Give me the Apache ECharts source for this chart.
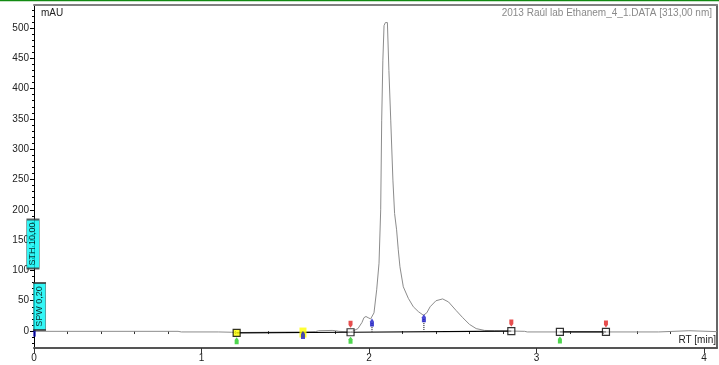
<!DOCTYPE html>
<html>
<head>
<meta charset="utf-8">
<script src="https://cdn.jsdelivr.net/npm/echarts@6/dist/echarts.min.js"></script>
<style>
  html, body { margin: 0; padding: 0; background: #fff; }
  #chart { width: 719px; height: 365px; }
</style>
</head>
<body>
<div id="chart"></div>
<script>
// Detector trace at 313 nm: retention time (min) and absorbance (mAU)
const traceTime = [0.000, 0.860, 0.880, 1.100, 1.180, 1.210, 1.400, 1.600, 1.680, 1.700, 1.780, 1.800, 1.820, 1.890,
  1.904, 1.934, 1.958, 1.970, 1.982, 1.995, 2.010, 2.018, 2.030, 2.046, 2.060, 2.070, 2.076, 2.083, 2.090, 2.098,
  2.106, 2.110, 2.119, 2.130, 2.143, 2.153, 2.165, 2.175, 2.185, 2.205, 2.235, 2.265, 2.295, 2.325, 2.345, 2.365,
  2.400, 2.440, 2.475, 2.520, 2.560, 2.600, 2.640, 2.690, 2.750, 2.850, 2.930, 2.945, 3.730, 3.740, 3.910, 3.920, 4.078];
const traceMAU = [-0.5, -0.5, -1.5, -1.5, -2, -2.5, -2, -1.5, -1, 0.5, 1, 0.5, -0.5, -1.5,
  0, 4, 14, 22, 24, 22, 20, 19, 30, 68, 112, 200, 348, 447, 504, 509,
  512, 509, 430, 348, 249, 194, 167, 134, 106, 73, 54, 40, 32, 26, 30, 40,
  50, 53, 48, 34, 22, 11, 4, 1, 0.5, 0, -0.5, -1.5, -1.5, 0.5, 0.5, -1, -1];

// Integration baselines (start / end of each drawn segment)
const baseStartTime = [1.21, 1.89, 3.14];
const baseStartMAU = [-3, -2, -1.5];
const baseEndTime = [1.89, 2.85, 3.415];
const baseEndMAU = [-2, 0, -1.5];

// Peak boundary boxes
const boxTime = [1.89, 2.85, 3.14, 3.415];
const boxMAU = [-2, 0, -1.5, -1.5];
const selectedBoxTime = [1.21];
const selectedBoxMAU = [-3];

// Peak start (green) and peak end (red) flags
const startFlagTime = [1.21, 1.89, 3.14];
const startFlagMAU = [-3, -2, -1.5];
const endFlagTime = [1.89, 2.85, 3.415];
const endFlagMAU = [-2, 0, -1.5];

// Valley / split markers (blue) and the baseline level each drops to
const valleyTime = [1.606, 2.018, 2.328];
const valleyMAU = [-1.5, 19, 26];
const valleyDropMAU = [-1.5, -1.2, -0.4];
const highlightTime = [1.606];
const highlightMAU = [-2.5];

// Integration event parameters shown on the signal axis
const eventNames = ['STH 10,00', 'SPW 0,20'];
const eventMAU = [143.5, 40.5];

// Axis ticks
const xTickValues = [0, 1, 2, 3, 4];
const yTickValues = [0, 50, 100, 150, 200, 250, 300, 350, 400, 450, 500];

const X_MIN = 0, X_MAX = 4.078, Y_MIN = -28, Y_MAX = 538;

const xMinor = [];
for (let i = 1; i <= 20; i++) { const v = +(i * 0.2).toFixed(1); if (xTickValues.indexOf(v) < 0) xMinor.push(v); }
const yMinor = [];
for (let v = -20; v <= 530; v += 10) { if (v % 50 !== 0) yMinor.push(v); }

const zip = (a, b) => a.map((t, i) => [t, b[i]]);
const font = 'Arial, "Liberation Sans", sans-serif';

const downArrow = 'path://M0,0L4,0L4,5L2,8L0,5Z';
const upArrow = 'path://M2,0L4,3L4,8L0,8L0,3Z';

const series = [];

// the chromatogram
series.push({
  type: 'line', data: zip(traceTime, traceMAU), showSymbol: false, symbol: 'none',
  lineStyle: { color: '#8c8c8c', width: 1 }, z: 2, silent: true
});

// baselines
baseStartTime.forEach((t, i) => {
  series.push({
    type: 'line', data: [[t, baseStartMAU[i]], [baseEndTime[i], baseEndMAU[i]]], symbol: 'none',
    lineStyle: { color: '#000', width: 1.2 }, z: 3, silent: true
  });
});

// dotted drops from valley markers down to baseline
valleyTime.forEach((t, i) => {
  if (valleyMAU[i] - valleyDropMAU[i] < 3) return;
  series.push({
    type: 'line', data: [[t, valleyMAU[i] - 6], [t, valleyDropMAU[i]]], symbol: 'none',
    lineStyle: { color: '#000', width: 1, type: [1, 1] }, z: 3, silent: true
  });
});

// yellow highlight behind the first valley
series.push({
  type: 'scatter', data: zip(highlightTime, highlightMAU), symbol: 'rect', symbolSize: [7, 10],
  itemStyle: { color: '#ffff00' }, z: 4, silent: true, clip: false
});

// boundary boxes
series.push({
  type: 'scatter', data: zip(boxTime, boxMAU), symbol: 'rect', symbolSize: 7,
  itemStyle: { color: 'rgba(255,255,255,0.6)', borderColor: '#000', borderWidth: 1.2 }, z: 5, silent: true
});
series.push({
  type: 'scatter', data: zip(selectedBoxTime, selectedBoxMAU), symbol: 'rect', symbolSize: 7,
  itemStyle: { color: '#ffff00', borderColor: '#000', borderWidth: 1.2 }, z: 5, silent: true
});

// start / end flags
series.push({
  type: 'scatter', data: zip(startFlagTime, startFlagMAU), symbol: upArrow, symbolSize: [4, 7],
  symbolOffset: [0, 8], itemStyle: { color: '#22cc22' }, z: 5, silent: true
});
series.push({
  type: 'scatter', data: zip(endFlagTime, endFlagMAU), symbol: downArrow, symbolSize: [4, 7],
  symbolOffset: [0, -8], itemStyle: { color: '#e02020' }, z: 5, silent: true
});

// valley markers
series.push({
  type: 'scatter', data: zip(valleyTime, valleyMAU), symbol: upArrow, symbolSize: [4, 8],
  symbolOffset: [0, 3], itemStyle: { color: '#1c1cc8' }, z: 6, silent: true
});

// small event mark at injection
series.push({
  type: 'scatter', data: [[0, -3.5]], symbol: 'rect', symbolSize: [2.5, 7],
  symbolOffset: [0.5, 0], itemStyle: { color: '#0000b0' }, z: 6, silent: true, clip: false
});

// integration event parameter tags
const tagOffsets = [[-1, 0], [5.5, 0]];
const tagSizes = [[12.5, 49], [12.5, 47]];
eventNames.forEach((name, i) => {
  series.push({
    type: 'scatter', data: [[0, eventMAU[i]]], symbol: 'rect', symbolSize: tagSizes[i],
    symbolOffset: tagOffsets[i], clip: false, z: 7, silent: true,
    itemStyle: { color: '#00f4f4', borderColor: '#333', borderWidth: 1 },
    label: {
      show: true, position: 'inside', rotate: 90, formatter: name,
      fontFamily: font, fontSize: 9, color: '#000'
    }
  });
});

const chart = echarts.init(document.getElementById('chart'), null, { renderer: 'canvas' });
chart.setOption({
  animation: false,
  backgroundColor: '#fff',
  grid: { left: 34, right: 2, top: 5, bottom: 17, containLabel: false },
  title: [
    { text: 'mAU', left: 41, top: 8, padding: 0, textStyle: { fontFamily: font, fontSize: 10, fontWeight: 'normal', color: '#222' } },
    { text: '2013 Raúl lab Ethanem_4_1.DATA [313,00 nm]', right: 7, top: 8, padding: 0,
      textStyle: { fontFamily: font, fontSize: 10, fontWeight: 'normal', color: '#8a8a8a' } },
    { text: 'RT [min]', right: 3, top: 335, padding: 0, textStyle: { fontFamily: font, fontSize: 10, fontWeight: 'normal', color: '#222' } }
  ],
  graphic: [
    { type: 'line', shape: { x1: 0, y1: 0.6, x2: 719, y2: 0.6 }, style: { stroke: '#128a12', lineWidth: 1.5 }, z: 10 }
  ],
  xAxis: [
    {
      type: 'value', position: 'bottom', min: X_MIN, max: X_MAX,
      axisLine: { show: true, onZero: false, lineStyle: { color: '#555', width: 2 } },
      axisTick: { show: true, customValues: xTickValues, length: 5, lineStyle: { color: '#333', width: 1 } },
      axisLabel: { show: true, customValues: xTickValues, margin: 5, fontFamily: font, fontSize: 10, color: '#222' },
      splitLine: { show: false }
    },
    {
      type: 'value', position: 'bottom', min: X_MIN, max: X_MAX,
      axisLine: { show: false },
      axisTick: { show: true, customValues: xMinor, length: 3, lineStyle: { color: '#333', width: 1 } },
      axisLabel: { show: false }, splitLine: { show: false }
    },
    {
      type: 'value', position: 'top', min: X_MIN, max: X_MAX,
      axisLine: { show: true, onZero: false, lineStyle: { color: '#808080', width: 2 } },
      axisTick: { show: false }, axisLabel: { show: false }, splitLine: { show: false }
    }
  ],
  yAxis: [
    {
      type: 'value', position: 'left', min: Y_MIN, max: Y_MAX,
      axisLine: { show: true, onZero: false, lineStyle: { color: '#000', width: 1 } },
      axisTick: { show: true, customValues: yTickValues, length: 4, lineStyle: { color: '#000', width: 1 } },
      axisLabel: { show: true, customValues: yTickValues, margin: 5, fontFamily: font, fontSize: 10, color: '#222' },
      splitLine: { show: false }
    },
    {
      type: 'value', position: 'left', min: Y_MIN, max: Y_MAX,
      axisLine: { show: false },
      axisTick: { show: true, customValues: yMinor, length: 2, lineStyle: { color: '#000', width: 1 } },
      axisLabel: { show: false }, splitLine: { show: false }
    },
    {
      type: 'value', position: 'right', min: Y_MIN, max: Y_MAX,
      axisLine: { show: true, onZero: false, lineStyle: { color: '#333', width: 1.5 } },
      axisTick: { show: false }, axisLabel: { show: false }, splitLine: { show: false }
    }
  ],
  series: series
});
</script>
</body>
</html>
